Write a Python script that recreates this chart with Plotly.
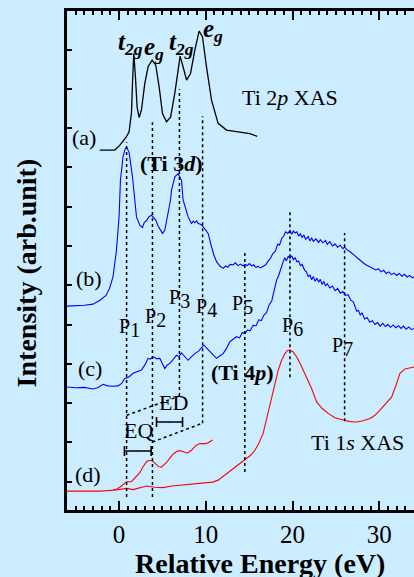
import plotly.graph_objects as go

# ---- spectra (energy in eV relative to edge, intensity in arb. units, curves offset) ----
ti2p_energy = [-2.23, -0.50, 0.08, 0.54, 0.85, 1.15, 1.43, 1.55, 1.70, 1.89, 2.08, 2.31, 2.58, 2.97,
               3.35, 3.81, 4.23, 4.62, 5.01, 5.47, 5.94, 6.43, 6.81, 7.04, 7.38, 7.78, 8.24, 8.73,
               9.23, 9.62, 10.08, 10.66, 11.42, 12.39, 13.93, 15.08, 15.92]
ti2p_intensity = [8.44, 8.44, 8.56, 8.69, 8.78, 8.90, 9.38, 10.14, 10.90, 10.30, 9.54, 9.27, 9.46, 10.14,
                  10.56, 10.73, 10.60, 10.05, 9.37, 9.16, 9.28, 9.89, 10.56, 10.83, 10.56, 10.22, 10.39, 10.98,
                  11.47, 11.32, 10.56, 9.71, 9.12, 8.95, 8.90, 8.86, 8.79]

spec_b_energy = [-6.0, -5.0, -4.0, -3.0, -2.2, -1.5, -1.1, -0.7, -0.3, 0.0, 0.16, 0.46, 0.66, 0.85, 1.15,
                 1.55, 1.81, 2.01, 2.39, 2.70, 2.91, 3.16, 3.43, 3.74, 4.00, 4.23, 4.50, 4.81, 5.01, 5.27,
                 5.65, 5.93, 6.05, 6.43, 6.81, 7.20, 7.38, 7.70, 7.96, 8.35, 8.55, 8.73, 8.95, 9.12, 9.40,
                 9.69, 10.0, 10.27, 10.66, 10.93, 11.24, 11.62, 12.0, 12.3, 12.54, 12.8, 13.15, 13.4, 13.7,
                 14.0, 14.3, 14.5, 14.8, 15.0, 15.3, 15.5, 15.8, 16.0, 16.3, 16.6, 16.9, 17.2, 17.5, 17.7,
                 18.0, 18.3, 18.5, 18.75, 19.0, 19.2, 19.45, 19.7, 19.9, 20.1, 20.3, 20.5, 20.7, 20.9, 21.1,
                 21.3, 21.5, 21.8, 22.0, 22.2, 22.4, 22.7, 23.0, 23.2, 23.5, 23.8, 24.0, 24.3, 24.6, 24.9,
                 25.2, 25.5, 25.8, 26.0, 26.3, 26.6, 26.9, 27.2, 27.5, 27.8, 28.1, 28.4, 28.7, 29.0, 29.3,
                 29.6, 29.9, 30.2, 30.5, 30.8, 31.1, 31.4, 31.7, 32.0, 32.3, 32.6, 32.9, 33.2, 33.5, 33.8, 34.0]
spec_b_intensity = [4.47, 4.48, 4.49, 4.52, 4.62, 4.74, 4.92, 5.21, 5.89, 6.74, 7.67, 8.27, 8.44, 8.52, 8.39,
                    7.76, 7.17, 6.74, 6.53, 6.47, 6.60, 6.64, 6.74, 6.78, 6.72, 6.66, 6.51, 6.38, 6.32, 6.40,
                    6.83, 7.17, 7.42, 7.76, 7.84, 7.67, 7.17, 6.92, 6.74, 6.57, 6.63, 6.59, 6.64, 6.57, 6.55,
                    6.49, 6.40, 6.32, 5.98, 5.77, 5.60, 5.49, 5.43, 5.49, 5.46, 5.53, 5.52, 5.57, 5.50,
                    5.54, 5.49, 5.53, 5.50, 5.55, 5.49, 5.52, 5.45, 5.48, 5.44, 5.49, 5.52, 5.62, 5.70, 5.80,
                    5.86, 6.05, 6.02, 6.19, 6.26, 6.36, 6.32, 6.39, 6.30, 6.38, 6.33, 6.36, 6.25, 6.31, 6.22,
                    6.28, 6.17, 6.24, 6.13, 6.20, 6.12, 6.18, 6.09, 6.16, 6.08, 6.14, 6.04, 6.11, 6.00, 6.05,
                    5.97, 6.02, 5.93, 5.97, 5.90, 5.86, 5.80, 5.75, 5.70, 5.64, 5.58, 5.53, 5.49, 5.45, 5.43,
                    5.39, 5.42, 5.34, 5.38, 5.30, 5.34, 5.27, 5.31, 5.25, 5.30, 5.23, 5.28, 5.21, 5.25, 5.19, 5.22]

spec_c_energy = [-6.0, -5.0, -4.0, -3.0, -2.4, -1.85, -1.3, -0.8, -0.12, 0.3, 0.66, 1.1, 1.62, 2.1, 2.58,
                 3.0, 3.35, 3.6, 3.92, 4.3, 4.70, 5.0, 5.27, 5.55, 5.85, 6.2, 6.62, 6.9, 7.20, 7.6, 7.96,
                 8.3, 8.73, 9.2, 9.77, 10.1, 10.47, 10.8, 11.24, 11.6, 12.0, 12.4, 12.77, 13.1, 13.55, 13.9,
                 14.2, 14.5, 14.8, 15.1, 15.46, 15.8, 16.1, 16.4, 16.7, 17.0, 17.3, 17.6, 17.9, 18.16, 18.4,
                 18.7, 18.92, 19.1, 19.3, 19.5, 19.7, 19.9, 20.1, 20.3, 20.5, 20.7, 20.9, 21.1, 21.4, 21.6,
                 21.8, 22.0, 22.2, 22.4, 22.6, 22.8, 23.0, 23.2, 23.4, 23.6, 23.8, 24.0, 24.3, 24.6, 24.9,
                 25.2, 25.5, 25.8, 26.1, 26.4, 26.7, 27.0, 27.2, 27.4, 27.6, 27.8, 28.0, 28.3, 28.6, 28.9,
                 29.2, 29.5, 29.8, 30.1, 30.4, 30.7, 31.0, 31.3, 31.6, 31.9, 32.2, 32.5, 32.8, 33.1, 33.4,
                 33.7, 34.0]
spec_c_intensity = [2.41, 2.39, 2.40, 2.36, 2.40, 2.48, 2.44, 2.43, 2.44, 2.50, 2.63, 2.66, 2.76, 2.80, 2.84,
                    2.98, 3.14, 3.12, 3.18, 3.13, 3.14, 3.00, 2.88, 2.97, 3.01, 3.10, 3.22, 3.18, 3.28, 3.18, 3.09,
                    3.17, 3.26, 3.33, 3.48, 3.40, 3.31, 3.22, 3.14, 3.20, 3.26, 3.40, 3.56, 3.62, 3.69, 3.66,
                    3.80, 3.77, 3.86, 3.84, 3.98, 3.97, 4.12, 4.10, 4.24, 4.30, 4.50, 4.60, 4.90, 5.13, 5.25,
                    5.48, 5.60, 5.70, 5.62, 5.74, 5.68, 5.75, 5.65, 5.70, 5.60, 5.62, 5.50, 5.53, 5.38, 5.34,
                    5.22, 5.26, 5.14, 5.22, 5.10, 5.18, 5.08, 5.15, 5.02, 5.10, 4.98, 5.04, 4.93, 4.98, 4.86,
                    4.92, 4.80, 4.84, 4.74, 4.76, 4.62, 4.58, 4.46, 4.34, 4.36, 4.24, 4.30, 4.14, 4.18, 4.06,
                    4.10, 4.00, 4.05, 3.96, 4.03, 3.95, 4.00, 3.93, 3.99, 3.92, 3.97, 3.90, 3.96, 3.88, 3.94,
                    3.87, 3.90]

ti1s_energy = [-6.07, -2.23, -0.30, 0.85, 1.62, 2.39, 3.16, 4.12, 5.08, 6.08, 7.00, 8.73, 10.08, 10.81,
               11.42, 12.20, 13.15, 13.93, 14.70, 15.20, 15.66, 16.12, 16.61, 16.93, 17.19, 17.58, 17.96,
               18.35, 18.74, 19.12, 19.41, 19.69, 20.04, 20.47, 20.96, 21.62, 22.18, 22.78, 23.39, 24.11,
               24.89, 25.85, 26.62, 27.39, 28.12, 28.93, 29.50, 30.08, 30.66, 31.43, 31.93, 32.38, 32.96,
               33.54, 34.0]
ti1s_intensity = [-0.24, -0.24, -0.21, -0.17, -0.20, -0.15, -0.11, -0.14, -0.15, -0.11, -0.09, -0.06, -0.03, -0.01,
                  0.04, 0.17, 0.34, 0.47, 0.59, 0.68, 0.80, 0.98, 1.23, 1.52, 1.74, 2.08, 2.46,
                  2.84, 3.09, 3.26, 3.34, 3.35, 3.31, 3.18, 2.97, 2.67, 2.38, 2.03, 1.87, 1.74,
                  1.63, 1.57, 1.53, 1.52, 1.55, 1.61, 1.69, 1.82, 1.97, 2.16, 2.46, 2.76, 2.87,
                  2.90, 2.92]

# magnified pre-edge region of the Ti 1s spectrum
preedge_energy = [-0.69, -0.27, 0.28, 0.60, 0.85, 1.43, 1.75, 2.04, 2.39, 2.73, 3.16, 3.43, 3.74, 4.00,
                  4.32, 4.58, 4.89, 5.16, 5.47, 5.85, 6.23, 6.62, 7.00, 7.35, 7.78, 8.04, 8.35, 8.62,
                  8.93, 9.31, 9.69, 10.00, 10.27, 10.52, 10.78]
preedge_intensity = [-0.21, -0.19, -0.11, -0.04, 0.00, 0.00, 0.07, 0.14, 0.23, 0.37, 0.51, 0.54, 0.54, 0.50,
                     0.42, 0.38, 0.37, 0.42, 0.49, 0.60, 0.70, 0.77, 0.79, 0.77, 0.73, 0.75, 0.80, 0.87,
                     0.93, 0.97, 0.97, 0.97, 0.99, 1.02, 1.06]

# ---- peak markers P1..P7: energy, top and bottom of the dotted guide ----
peak_names = ["1", "2", "3", "4", "5", "6", "7"]
peak_energy = [0.87, 3.85, 6.96, 9.63, 14.5, 19.7, 26.0]
guide_top = [8.64, 9.15, 9.99, 9.30, 5.89, 6.93, 6.33]
guide_bottom = [-0.39, -0.39, 2.18, 1.49, 0.25, 2.66, 1.54]
label_energy = [1.23, 4.23, 6.99, 10.12, 14.27, 19.96, 25.75]
label_intensity = [3.91, 4.16, 4.65, 4.42, 4.49, 3.93, 3.43]

# resolution bars (centre energy, half width, level)
bar_names = ["EQ", "ED"]
bar_center = [2.16, 5.82]
bar_halfwidth = [1.54, 1.50]
bar_level = [0.78, 1.52]

SERIF = "Liberation Serif"
BG = "#CCECFF"

fig = go.Figure()

line_traces = [
    (ti2p_energy, ti2p_intensity, "black", 1.3),
    (spec_b_energy, spec_b_intensity, "#0000FF", 1.1),
    (spec_c_energy, spec_c_intensity, "#0000FF", 1.1),
    (ti1s_energy, ti1s_intensity, "#FF0000", 1.1),
    (preedge_energy, preedge_intensity, "#FF0000", 1.1),
]
for xs, ys, col, w in line_traces:
    fig.add_trace(go.Scatter(x=xs, y=ys, mode="lines", line=dict(color=col, width=w),
                             showlegend=False, hoverinfo="skip"))

# dotted guides at each peak
for e, top, bot in zip(peak_energy, guide_top, guide_bottom):
    fig.add_trace(go.Scatter(x=[e, e], y=[bot, top], mode="lines",
                             line=dict(color="black", width=1.5, dash="dot"),
                             showlegend=False, hoverinfo="skip"))

# dotted perspective box linking EQ (P1,P2) and ED (P3,P4)
fig.add_trace(go.Scatter(x=[peak_energy[0], peak_energy[2]], y=[1.69, guide_bottom[2]], mode="lines",
                         line=dict(color="black", width=1.5, dash="dot"), showlegend=False, hoverinfo="skip"))
fig.add_trace(go.Scatter(x=[peak_energy[1], peak_energy[3]], y=[1.01, guide_bottom[3]], mode="lines",
                         line=dict(color="black", width=1.5, dash="dot"), showlegend=False, hoverinfo="skip"))

# EQ / ED resolution bars
fig.add_trace(go.Scatter(x=bar_center, y=bar_level, mode="markers",
                         marker=dict(size=1, color="black"),
                         error_x=dict(type="data", array=bar_halfwidth, color="black", thickness=1.6, width=5),
                         showlegend=False, hoverinfo="skip"))

ann = []


def text(x, y, s, size=22):
    ann.append(dict(x=x, y=y, xref="x", yref="y", text=s, showarrow=False,
                    font=dict(family=SERIF, size=size, color="black"),
                    xanchor="center", yanchor="middle"))


for name, lx, ly in zip(peak_names, label_energy, label_intensity):
    text(lx, ly, "P<sub><span style='font-size:20px'>" + name + "</span></sub>", size=20)

text(1.33, 11.16, "<b><i>t</i></b><sub><b><i>2g</i></b></sub>", size=25)
text(4.00, 11.03, "<b><i>e</i></b><sub><b><i>g</i></b></sub>", size=25)
text(7.15, 11.16, "<b><i>t</i></b><sub><b><i>2g</i></b></sub>", size=25)
text(10.81, 11.49, "<b><i>e</i></b><sub><b><i>g</i></b></sub>", size=25)

text(19.7, 9.79, "Ti 2<i>p</i> XAS")
text(-4.07, 8.77, "(a)")
text(6.08, 8.11, "<b>(Ti 3<i>d</i>)</b>")
text(-3.49, 5.18, "(b)")
text(-3.38, 2.87, "(c)")
text(-3.61, 0.19, "(d)")
text(14.27, 2.79, "<b>(Ti 4<i>p</i>)</b>")
text(27.43, 1.01, "Ti 1<i>s</i> XAS")
text(2.27, 1.31, bar_names[0])
text(6.31, 2.02, bar_names[1])

# axis titles
ann.append(dict(x=0.556, y=-0.107, xref="paper", yref="paper", text="<b>Relative Energy (eV)</b>",
                showarrow=False, font=dict(family=SERIF, size=28, color="black"),
                xanchor="center", yanchor="middle"))
ann.append(dict(x=-0.114, y=0.475, xref="paper", yref="paper", text="<b>Intensity (arb.unit)</b>",
                showarrow=False, textangle=-90, font=dict(family=SERIF, size=28, color="black"),
                xanchor="center", yanchor="middle"))

fig.update_layout(
    width=414, height=577,
    margin=dict(l=67, r=0, t=11, b=67),
    paper_bgcolor=BG, plot_bgcolor=BG,
    annotations=ann,
    showlegend=False,
)
fig.update_xaxes(
    range=[-6, 34.0], showgrid=False, zeroline=False,
    showline=True, linecolor="black", linewidth=2.5, mirror="allticks",
    ticks="inside", ticklen=9, tickwidth=1.5, tickcolor="black",
    tick0=0, dtick=10,
    minor=dict(ticks="inside", ticklen=4, tickwidth=1.5, tickcolor="black", dtick=1, tick0=0, showgrid=False),
    tickfont=dict(family=SERIF, size=25, color="black"),
)
fig.update_yaxes(
    range=[-0.72, 11.98], showgrid=False, zeroline=False,
    showline=True, linecolor="black", linewidth=2.5,
    ticks="inside", ticklen=5, tickwidth=1.5, tickcolor="black",
    tick0=0, dtick=1, showticklabels=False,
)

fig.write_html("out.html")
